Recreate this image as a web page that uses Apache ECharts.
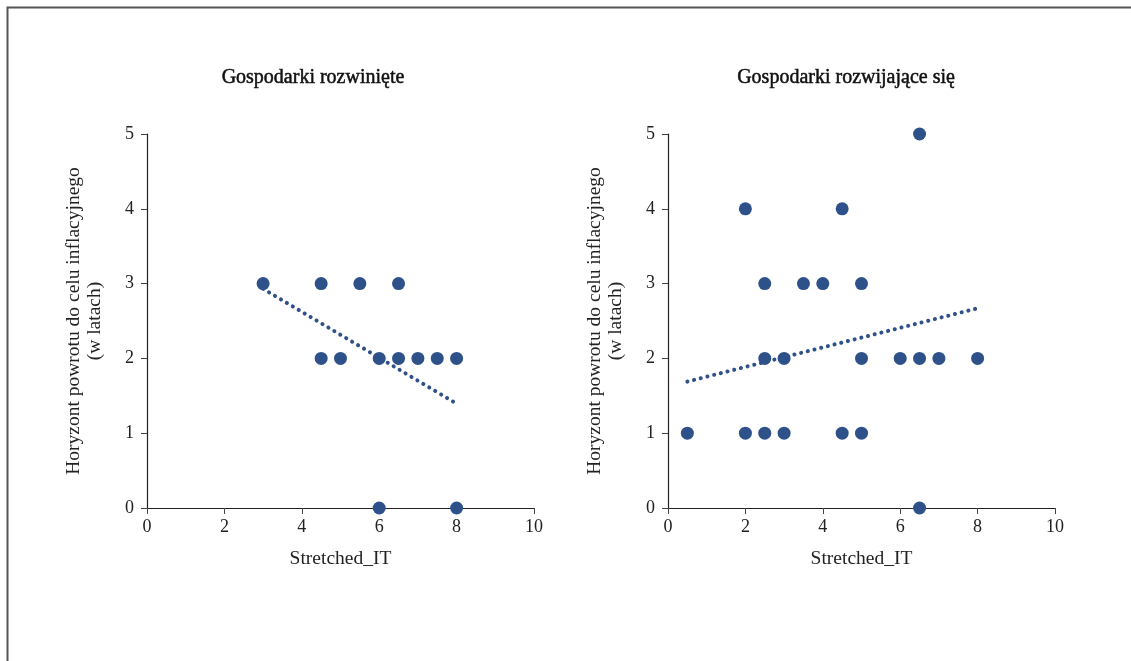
<!DOCTYPE html>
<html><head><meta charset="utf-8">
<script src="https://cdn.jsdelivr.net/npm/echarts@6/dist/echarts.min.js"></script>
<style>html,body{margin:0;padding:0;background:#fff}#c{width:1131px;height:661px}</style>
</head><body><div id="c"></div>
<script>
const titles = ['Gospodarki rozwinięte', 'Gospodarki rozwijające się'];
const xName = 'Stretched_IT';
const yName = 'Horyzont powrotu do celu inflacyjnego\n(w latach)';
const xTicks = [0, 2, 4, 6, 8, 10];
const yTicks = [0, 1, 2, 3, 4, 5];
// developed economies
const devX = [3, 4.5, 5.5, 6.5, 4.5, 5, 6, 6.5, 7, 7.5, 8, 6, 8];
const devY = [3, 3, 3, 3, 2, 2, 2, 2, 2, 2, 2, 0, 0];
const devTrendX = [3, 7.95];
const devTrendY = [2.93, 1.41];
// developing economies
const emX = [0.5, 2, 2.5, 3, 4.5, 5, 2, 4.5, 6.5, 2.5, 3.5, 4, 5, 2.5, 3, 5, 6, 6.5, 7, 8, 6.5];
const emY = [1, 1, 1, 1, 1, 1, 4, 4, 5, 3, 3, 3, 3, 2, 2, 2, 2, 2, 2, 2, 0];
const emTrendX = [0.5, 8];
const emTrendY = [1.69, 2.67];

const COLOR = '#2f5189';
const FONT = '"Liberation Serif", serif';
const pair = (xs, ys) => xs.map((x, i) => [x, ys[i]]);

const grids = [
  {left: 147, top: 134, width: 387, height: 374},
  {left: 668, top: 134, width: 387, height: 374}
];
function xAxis(i) {
  return {
    type: 'value', gridIndex: i, min: xTicks[0], max: xTicks[xTicks.length - 1], interval: 2,
    name: xName, nameLocation: 'middle', nameGap: 41,
    nameTextStyle: {fontFamily: FONT, fontSize: 19.5, color: '#222'},
    axisLine: {show: true, onZero: false, lineStyle: {color: '#222', width: 1.2}},
    axisTick: {show: true, length: 6, lineStyle: {color: '#444'}},
    axisLabel: {fontFamily: FONT, fontSize: 18, color: '#222', margin: 10},
    splitLine: {show: false}
  };
}
function yAxis(i) {
  return {
    type: 'value', gridIndex: i, min: yTicks[0], max: yTicks[yTicks.length - 1], interval: 1,
    name: yName, nameLocation: 'middle', nameGap: 42, nameRotate: 90,
    nameTextStyle: {fontFamily: FONT, fontSize: 19.5, color: '#222', lineHeight: 21},
    axisLine: {show: true, onZero: false, lineStyle: {color: '#222', width: 1.2}},
    axisTick: {show: true, length: 6, lineStyle: {color: '#444'}},
    axisLabel: {fontFamily: FONT, fontSize: 18, color: '#222', margin: 13},
    splitLine: {show: false}
  };
}
function scatter(i, xs, ys) {
  return {type: 'scatter', xAxisIndex: i, yAxisIndex: i, data: pair(xs, ys),
    symbolSize: 13, itemStyle: {color: COLOR, opacity: 1}, z: 3};
}
function trend(i, xs, ys) {
  return {type: 'line', xAxisIndex: i, yAxisIndex: i, data: pair(xs, ys), symbol: 'none',
    lineStyle: {color: COLOR, width: 4, type: [0.1, 6.8], cap: 'round'}, z: 4, silent: true};
}
const titleStyle = {fontFamily: FONT, fontSize: 20, fontWeight: 'normal', color: '#111',
  textBorderColor: '#111', textBorderWidth: 0.5};
const chart = echarts.init(document.getElementById('c'));
chart.setOption({
  animation: false,
  backgroundColor: '#fff',
  title: [
    {text: titles[0], left: 308, top: 63, textAlign: 'center', textStyle: titleStyle},
    {text: titles[1], left: 841, top: 63, textAlign: 'center', textStyle: titleStyle}
  ],
  graphic: [{type: 'rect', shape: {x: 7.5, y: 7.5, width: 1200, height: 800},
    style: {fill: 'none', stroke: '#555', lineWidth: 2}, silent: true}],
  grid: grids,
  xAxis: [xAxis(0), xAxis(1)],
  yAxis: [yAxis(0), yAxis(1)],
  series: [
    scatter(0, devX, devY), trend(0, devTrendX, devTrendY),
    scatter(1, emX, emY), trend(1, emTrendX, emTrendY)
  ]
});
</script></body></html>
